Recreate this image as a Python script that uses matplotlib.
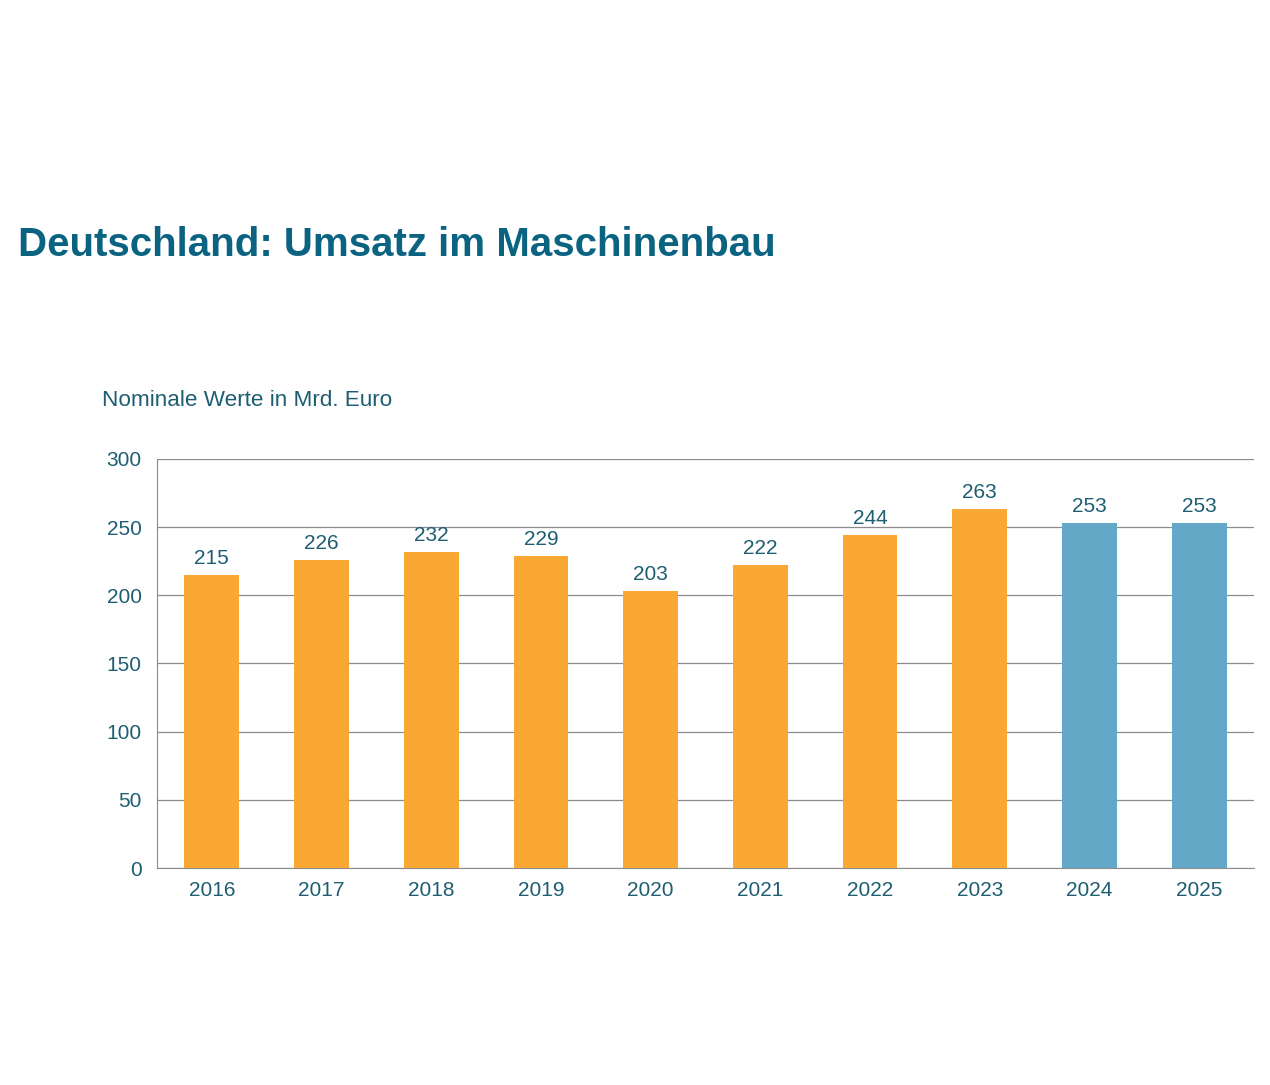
import matplotlib.pyplot as plt

plt.rcParams['font.family'] = ['Liberation Sans', 'DejaVu Sans']

years = ['2016', '2017', '2018', '2019', '2020', '2021', '2022', '2023', '2024', '2025']
umsatz = [215, 226, 232, 229, 203, 222, 244, 263, 253, 253]
prognose = [False] * 8 + [True] * 2

orange = '#F9A833'
blue = '#64A8C8'
textcol = '#1D5E72'

fig = plt.figure(figsize=(12.7, 10.85), dpi=100)
ax = fig.add_axes([0.1236, 0.2, 0.8638, 0.377])

colors = [blue if p else orange for p in prognose]
bars = ax.bar(range(len(years)), umsatz, width=0.5, color=colors, zorder=3)
ax.bar_label(bars, labels=[str(v) for v in umsatz], padding=5,
             fontsize=15, color=textcol)

ax.set_xlim(-0.5, len(years) - 0.5)
ax.set_ylim(0, 300)
ax.set_yticks(range(0, 301, 50))
ax.set_xticks(range(len(years)))
ax.set_xticklabels(years)
ax.tick_params(axis='both', length=0, labelsize=15, labelcolor=textcol)
ax.tick_params(axis='y', pad=11)
ax.tick_params(axis='x', pad=9)
ax.grid(axis='y', color='#8C8C8C', linewidth=0.9, zorder=0)

for s in ['top', 'right']:
    ax.spines[s].set_visible(False)
ax.spines['left'].set_color('#8C8C8C')
ax.spines['bottom'].set_color('#8C8C8C')

fig.text(18 / 1270, 1 - 256 / 1085, 'Deutschland: Umsatz im Maschinenbau',
         fontsize=29, fontweight='bold', color='#0B6382', va='baseline')
fig.text(102 / 1270, 1 - 406 / 1085, 'Nominale Werte in Mrd. Euro',
         fontsize=16.2, color=textcol, va='baseline')

fig.savefig('out.png', dpi=100, facecolor='white')
